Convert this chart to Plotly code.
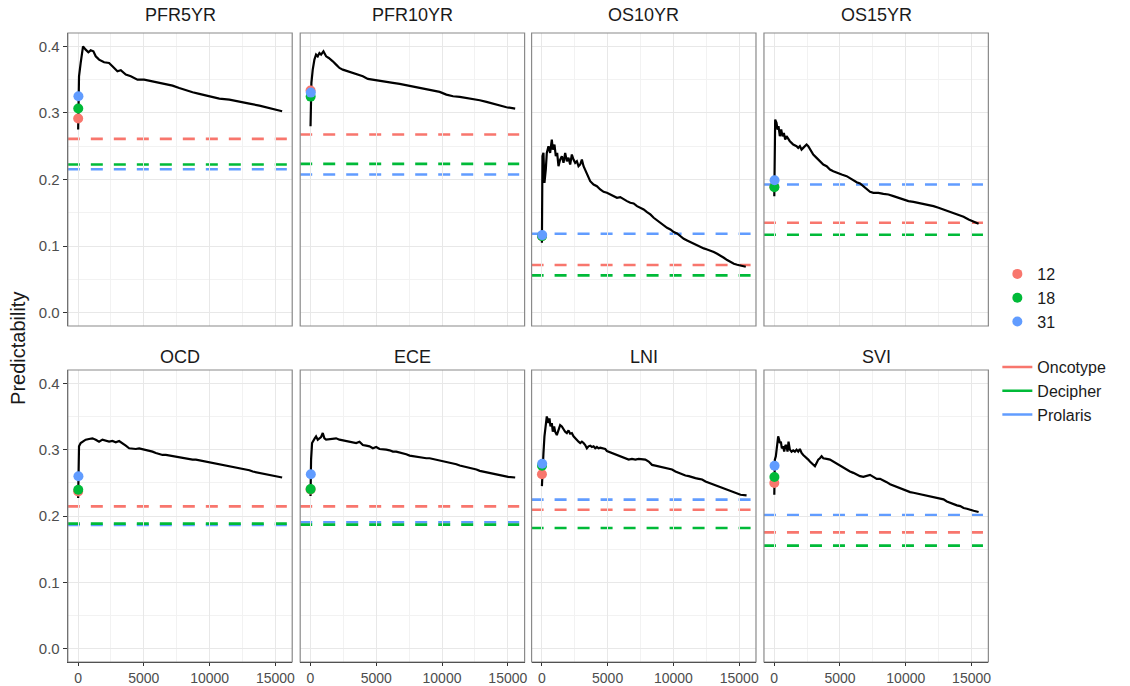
import plotly.graph_objects as go

# ---------------- data ----------------
panels = ["PFR5YR", "PFR10YR", "OS10YR", "OS15YR", "OCD", "ECE", "LNI", "SVI"]

curve_x = {
    "PFR5YR": [10, 76, 203, 381, 584, 787, 964, 1168, 1345, 1599, 1980, 2360, 2614, 2995, 3249, 3629, 4010, 4518,
               5025, 5660, 6167, 6675, 7183, 7690, 8198, 8706, 9213, 9975, 10736, 11497, 12259, 13020, 13782,
               14543, 15508],
    "PFR10YR": [10, 76, 178, 305, 431, 558, 685, 812, 990, 1193, 1396, 1574, 1701, 1954, 2208, 2462, 2843, 3223,
                3604, 3985, 4365, 4746, 5254, 5761, 6269, 6777, 7284, 7792, 8299, 8807, 9315, 9822, 10330, 10838,
                11345, 11853, 12360, 12868, 13376, 13883, 14391, 14898, 15560],
    "OS10YR": [10, 51, 127, 203, 305, 381, 508, 635, 761, 838, 964, 1066, 1168, 1269, 1396, 1523, 1650, 1777, 1904,
               2030, 2157, 2284, 2411, 2538, 2665, 2792, 2919, 3046, 3173, 3426, 3680, 3934, 4188, 4442, 4695, 4949,
               5203, 5457, 5711, 5964, 6218, 6472, 6726, 6980, 7234, 7487, 7741, 7995, 8249, 8503, 8756, 9010, 9264,
               9518, 9772, 10025, 10279, 10533, 10787, 11041, 11294, 11548, 11802, 12056, 12310, 12563, 12817,
               13071, 13325, 13579, 13832, 14086, 14340, 14594, 14848, 15101, 15500],
    "OS15YR": [10, 76, 178, 254, 330, 431, 533, 635, 736, 838, 939, 1066, 1193, 1320, 1447, 1701, 1827, 1954, 2081,
               2208, 2335, 2462, 2589, 2716, 2843, 2970, 3223, 3477, 3731, 3985, 4239, 4492, 4746, 5127, 5508, 5888,
               6269, 6523, 6777, 7030, 7284, 7538, 7919, 8299, 8680, 9061, 9442, 9822, 10203, 10584, 10964, 11345,
               11726, 12107, 12487, 12868, 13249, 13629, 14010, 14391, 14772, 15152, 15533],
    "OCD": [10, 30, 76, 203, 330, 584, 838, 1091, 1345, 1599, 1853, 2107, 2360, 2614, 2868, 3122, 3376, 3629, 3883,
            4137, 4391, 4645, 4898, 5152, 5406, 5660, 5914, 6168, 6421, 6675, 6929, 7183, 7437, 7690, 7944, 8198,
            8452, 8706, 8959, 9213, 9467, 9721, 9975, 10228, 10482, 10736, 10990, 11244, 11497, 11751, 12005,
            12259, 12513, 12766, 13020, 13274, 13528, 13782, 14035, 14289, 14543, 14797, 15051, 15508],
    "ECE": [10, 51, 127, 228, 330, 431, 558, 685, 812, 939, 1066, 1193, 1447, 1701, 1954, 2208, 2462, 2716, 2970,
            3223, 3477, 3731, 3985, 4239, 4492, 4746, 5000, 5254, 5508, 5761, 6015, 6269, 6523, 6777, 7030, 7284,
            7538, 7792, 8046, 8299, 8553, 8807, 9061, 9315, 9569, 9822, 10076, 10330, 10584, 10838, 11091, 11345,
            11599, 11853, 12107, 12360, 12614, 12868, 13122, 13376, 13629, 13883, 14137, 14391, 14645, 15025, 15560],
    "LNI": [10, 51, 127, 203, 305, 381, 457, 508, 584, 660, 761, 838, 939, 1015, 1142, 1269, 1396, 1523, 1650, 1777,
            1904, 2030, 2157, 2284, 2411, 2538, 2665, 2792, 2919, 3046, 3173, 3299, 3426, 3553, 3680, 3807, 3934,
            4061, 4188, 4315, 4442, 4569, 4695, 4822, 4949, 5076, 5330, 5584, 5838, 6091, 6345, 6599, 6853, 7107,
            7360, 7614, 7868, 8122, 8376, 8629, 8883, 9137, 9391, 9645, 9898, 10152, 10406, 10660, 10914, 11168,
            11421, 11675, 11929, 12183, 12437, 12690, 12944, 13198, 13452, 13706, 13959, 14213, 14467, 14721,
            15102, 15560],
    "SVI": [10, 51, 127, 228, 305, 381, 431, 508, 584, 685, 761, 863, 939, 1015, 1091, 1193, 1320, 1447, 1574, 1701,
            1827, 1954, 2081, 2208, 2335, 2462, 2589, 2716, 2843, 2970, 3096, 3223, 3350, 3477, 3604, 3731, 3858,
            3985, 4239, 4492, 4746, 5000, 5254, 5508, 5761, 6015, 6269, 6523, 6777, 7030, 7284, 7538, 7792, 8046,
            8299, 8553, 8807, 9061, 9315, 9569, 9822, 10076, 10330, 10584, 10838, 11091, 11345, 11599, 11853,
            12107, 12360, 12614, 12868, 13122, 13376, 13629, 13883, 14137, 14391, 14645, 14898, 15152, 15533],
}

curve_y = {
    "PFR5YR": [0.275, 0.355, 0.375, 0.400, 0.395, 0.391, 0.394, 0.3925, 0.385, 0.380, 0.376, 0.375, 0.370, 0.3625,
               0.364, 0.3575, 0.355, 0.350, 0.350, 0.3475, 0.346, 0.3435, 0.341, 0.3375, 0.334, 0.331, 0.3285,
               0.325, 0.3215, 0.320, 0.3175, 0.314, 0.311, 0.3075, 0.3025],
    "PFR10YR": [0.280, 0.345, 0.365, 0.380, 0.3875, 0.385, 0.390, 0.3875, 0.3925, 0.385, 0.3825, 0.380, 0.3775,
                0.3725, 0.3675, 0.365, 0.3625, 0.360, 0.3575, 0.355, 0.351, 0.350, 0.3485, 0.3465, 0.345, 0.3435,
                0.3415, 0.340, 0.3385, 0.3365, 0.3345, 0.3315, 0.3275, 0.325, 0.324, 0.3225, 0.321, 0.319, 0.3165,
                0.314, 0.311, 0.3085, 0.3065],
    "OS10YR": [0.105, 0.235, 0.240, 0.195, 0.215, 0.240, 0.250, 0.240, 0.260, 0.245, 0.2525, 0.235, 0.240, 0.220,
               0.230, 0.235, 0.225, 0.240, 0.2275, 0.2325, 0.2225, 0.2375, 0.230, 0.225, 0.2275, 0.220, 0.2225,
               0.230, 0.220, 0.210, 0.1975, 0.1925, 0.190, 0.185, 0.1815, 0.180, 0.1775, 0.175, 0.1725, 0.1735,
               0.170, 0.1675, 0.165, 0.164, 0.160, 0.1575, 0.155, 0.151, 0.1475, 0.1425, 0.1385, 0.135, 0.131,
               0.1275, 0.125, 0.121, 0.119, 0.115, 0.111, 0.1085, 0.106, 0.1035, 0.101, 0.0985, 0.0965, 0.095,
               0.0935, 0.091, 0.0885, 0.086, 0.0825, 0.079, 0.076, 0.0735, 0.072, 0.071, 0.069],
    "OS15YR": [0.175, 0.290, 0.285, 0.275, 0.280, 0.265, 0.275, 0.265, 0.270, 0.260, 0.265, 0.260, 0.2575, 0.255,
               0.2525, 0.250, 0.2475, 0.250, 0.245, 0.2475, 0.250, 0.2525, 0.250, 0.245, 0.240, 0.2375, 0.2325,
               0.2275, 0.2225, 0.220, 0.215, 0.2125, 0.210, 0.2075, 0.205, 0.200, 0.196, 0.194, 0.190, 0.185,
               0.1815, 0.180, 0.180, 0.1785, 0.1775, 0.175, 0.1725, 0.170, 0.1675, 0.1665, 0.165, 0.164, 0.1625,
               0.160, 0.1575, 0.155, 0.1525, 0.150, 0.147, 0.144, 0.140, 0.1365, 0.1335],
    "OCD": [0.227, 0.285, 0.305, 0.310, 0.312, 0.315, 0.316, 0.317, 0.315, 0.312, 0.315, 0.314, 0.312, 0.313, 0.311,
            0.313, 0.310, 0.306, 0.302, 0.301, 0.301, 0.302, 0.301, 0.300, 0.299, 0.297, 0.295, 0.293, 0.292, 0.292,
            0.291, 0.290, 0.289, 0.289, 0.288, 0.287, 0.286, 0.285, 0.285, 0.284, 0.283, 0.283, 0.282, 0.281, 0.280,
            0.279, 0.278, 0.277, 0.276, 0.275, 0.273, 0.272, 0.271, 0.270, 0.269, 0.267, 0.266, 0.265, 0.264, 0.262,
            0.261, 0.261, 0.260, 0.258],
    "ECE": [0.230, 0.285, 0.310, 0.315, 0.317, 0.320, 0.315, 0.317, 0.319, 0.325, 0.317, 0.315, 0.316, 0.317, 0.317,
            0.315, 0.314, 0.312, 0.311, 0.310, 0.310, 0.312, 0.307, 0.306, 0.305, 0.302, 0.304, 0.301, 0.301, 0.300,
            0.299, 0.297, 0.297, 0.296, 0.295, 0.293, 0.291, 0.290, 0.289, 0.288, 0.288, 0.287, 0.287, 0.286, 0.285,
            0.284, 0.282, 0.281, 0.280, 0.279, 0.278, 0.276, 0.275, 0.274, 0.272, 0.271, 0.270, 0.268, 0.267, 0.266,
            0.265, 0.264, 0.262, 0.261, 0.260, 0.259, 0.258],
    "LNI": [0.245, 0.270, 0.295, 0.320, 0.335, 0.350, 0.345, 0.340, 0.347, 0.335, 0.340, 0.327, 0.335, 0.327, 0.322,
            0.330, 0.337, 0.335, 0.330, 0.327, 0.325, 0.329, 0.324, 0.325, 0.320, 0.317, 0.315, 0.312, 0.310, 0.312,
            0.310, 0.307, 0.302, 0.305, 0.306, 0.304, 0.305, 0.302, 0.304, 0.302, 0.303, 0.302, 0.301, 0.301, 0.298,
            0.297, 0.295, 0.293, 0.290, 0.288, 0.287, 0.285, 0.286, 0.285, 0.286, 0.286, 0.285, 0.282, 0.277, 0.276,
            0.275, 0.274, 0.272, 0.271, 0.270, 0.267, 0.265, 0.262, 0.261, 0.260, 0.258, 0.257, 0.256, 0.255, 0.252,
            0.250, 0.248, 0.246, 0.245, 0.242, 0.241, 0.238, 0.236, 0.235, 0.232, 0.231],
    "SVI": [0.232, 0.285, 0.290, 0.305, 0.320, 0.315, 0.310, 0.312, 0.302, 0.305, 0.297, 0.307, 0.305, 0.297, 0.312,
            0.300, 0.297, 0.299, 0.297, 0.300, 0.297, 0.301, 0.295, 0.292, 0.290, 0.287, 0.285, 0.282, 0.280, 0.277,
            0.275, 0.280, 0.285, 0.287, 0.290, 0.287, 0.286, 0.286, 0.285, 0.282, 0.279, 0.276, 0.272, 0.270, 0.267,
            0.265, 0.262, 0.260, 0.259, 0.260, 0.262, 0.259, 0.256, 0.256, 0.254, 0.251, 0.248, 0.246, 0.244, 0.242,
            0.240, 0.237, 0.236, 0.235, 0.234, 0.232, 0.231, 0.230, 0.229, 0.229, 0.228, 0.227, 0.225, 0.222, 0.220,
            0.217, 0.216, 0.215, 0.212, 0.211, 0.209, 0.208, 0.206],
}

gene_sets = ["12", "18", "31"]
gene_x = [12, 18, 31]
gene_colors = ["#F8766D", "#00BA38", "#619CFF"]
# predictability of the 12-, 18-, 31-gene signatures per panel
point_y = {
    "PFR5YR": [0.2915, 0.3065, 0.325],
    "PFR10YR": [0.3335, 0.3245, 0.3305],
    "OS10YR": [0.115, 0.115, 0.1165],
    "OS15YR": [0.189, 0.1885, 0.199],
    "OCD": [0.237, 0.2395, 0.260],
    "ECE": [0.240, 0.2405, 0.263],
    "LNI": [0.263, 0.2757, 0.2787],
    "SVI": [0.2496, 0.2587, 0.2757],
}

tests = ["Oncotype", "Decipher", "Prolaris"]
test_colors = ["#F8766D", "#00BA38", "#619CFF"]
# commercial test reference levels per panel (Oncotype, Decipher, Prolaris)
test_y = {
    "PFR5YR": [0.261, 0.2225, 0.2155],
    "PFR10YR": [0.2675, 0.2235, 0.2075],
    "OS10YR": [0.0715, 0.056, 0.1185],
    "OS15YR": [0.135, 0.117, 0.1925],
    "OCD": [0.2145, 0.1885, 0.1865],
    "ECE": [0.2145, 0.187, 0.1905],
    "LNI": [0.2095, 0.182, 0.2246],
    "SVI": [0.1754, 0.1554, 0.2015],
}

x_ticks = [0, 5000, 10000, 15000]
x_minor = [2500, 7500, 12500]
y_ticks = [0.0, 0.1, 0.2, 0.3, 0.4]
y_ticktext = ["0.0", "0.1", "0.2", "0.3", "0.4"]
y_minor = [0.05, 0.15, 0.25, 0.35]

# ---------------- layout geometry (pixels) ----------------
W, H = 1130, 686
col_left = [68, 301, 533, 766]
panel_w = 225
row_top = [33, 370]
row_bot = [326, 662]
FONT = "Liberation Sans, Arial, sans-serif"

fig = go.Figure()
layout = dict(
    width=W, height=H, margin=dict(l=0, r=0, t=0, b=0),
    paper_bgcolor="white", plot_bgcolor="rgba(0,0,0,0)",
    font=dict(family=FONT, color="#1a1a1a"),
    showlegend=True,
)
shapes = []
annotations = []

for i, name in enumerate(panels):
    r, c = divmod(i, 4)
    k = i + 1
    xa = "x" if k == 1 else f"x{k}"
    ya = "y" if k == 1 else f"y{k}"
    xdom = [col_left[c] / W, (col_left[c] + panel_w) / W]
    ydom = [(H - row_bot[r]) / H, (H - row_top[r]) / H]
    bottom = r == 1
    left = c == 0
    layout[f"xaxis{k if k > 1 else ''}"] = dict(
        domain=xdom, anchor=ya, range=[-775, 16275],
        tickmode="array", tickvals=x_ticks, ticktext=[str(v) for v in x_ticks],
        showticklabels=bottom, ticks="outside" if bottom else "", ticklen=3, tickwidth=1, tickcolor="#333333",
        tickfont=dict(size=14, color="#4d4d4d", family=FONT),
        showgrid=True, gridcolor="#e8e8e8", gridwidth=1.1, zeroline=False,
        minor=dict(tickvals=x_minor, showgrid=True, gridcolor="#f2f2f2", gridwidth=0.8, ticks=""),
        showline=bottom, linecolor="#1a1a1a", linewidth=1.3,
        fixedrange=True,
    )
    layout[f"yaxis{k if k > 1 else ''}"] = dict(
        domain=ydom, anchor=xa, range=[-0.02, 0.42],
        tickmode="array", tickvals=y_ticks, ticktext=y_ticktext,
        showticklabels=left, ticks="outside" if left else "", ticklen=4, tickwidth=1, tickcolor="#333333",
        tickfont=dict(size=15, color="#4d4d4d", family=FONT),
        showgrid=True, gridcolor="#e8e8e8", gridwidth=1.1, zeroline=False,
        minor=dict(tickvals=y_minor, showgrid=True, gridcolor="#f2f2f2", gridwidth=0.8, ticks=""),
        showline=left, linecolor="#1a1a1a", linewidth=1.3,
        fixedrange=True,
    )

    # panel border
    shapes.append(dict(type="rect", xref=f"{xa} domain", yref=f"{ya} domain", x0=0, x1=1, y0=0, y1=1,
                       line=dict(color="#8a8a8a", width=1.2), fillcolor="rgba(0,0,0,0)", layer="above"))
    # commercial test reference lines (drawn Prolaris, Decipher, Oncotype)
    for j in [2, 1, 0]:
        shapes.append(dict(type="line", xref=f"{xa} domain", yref=ya, x0=0, x1=1,
                           y0=test_y[name][j], y1=test_y[name][j],
                           line=dict(color=test_colors[j], width=2.6, dash="12px,11px"), layer="below"))

    # strip title
    strip_center = 15 if r == 0 else 357
    annotations.append(dict(text=name, xref="paper", yref="paper",
                            x=(col_left[c] + panel_w / 2) / W, y=(H - strip_center) / H,
                            xanchor="center", yanchor="middle", showarrow=False,
                            font=dict(size=18, color="#1a1a1a", family=FONT)))

    # black predictability curve
    fig.add_trace(go.Scatter(x=curve_x[name], y=curve_y[name], mode="lines", xaxis=xa, yaxis=ya,
                             line=dict(color="black", width=2.2), showlegend=False, hoverinfo="skip"))
    # signature points
    for j, g in enumerate(gene_sets):
        fig.add_trace(go.Scatter(x=[gene_x[j]], y=[point_y[name][j]], mode="markers", xaxis=xa, yaxis=ya,
                                 marker=dict(color=gene_colors[j], size=10, line=dict(width=0)),
                                 name=g, legendgroup=g, showlegend=(i == 0), legend="legend"))

# legend entries for the reference tests
for j, t in enumerate(tests):
    fig.add_trace(go.Scatter(x=[None], y=[None], mode="lines", line=dict(color=test_colors[j], width=2.5),
                             name=t, showlegend=True, legend="legend2"))

annotations.append(dict(text="Predictability", xref="paper", yref="paper", x=18 / W, y=(H - 348) / H,
                        xanchor="center", yanchor="middle", textangle=-90, showarrow=False,
                        font=dict(size=20, color="#1a1a1a", family=FONT)))

layout["shapes"] = shapes
layout["annotations"] = annotations
layout["legend"] = dict(x=1000 / W, y=(H - 257) / H, xanchor="left", yanchor="top",
                        bgcolor="rgba(0,0,0,0)", font=dict(size=16, color="#1a1a1a", family=FONT),
                        tracegroupgap=0, itemclick=False, itemdoubleclick=False)
layout["legend2"] = dict(x=1000 / W, y=(H - 350) / H, xanchor="left", yanchor="top",
                         bgcolor="rgba(0,0,0,0)", font=dict(size=16, color="#1a1a1a", family=FONT),
                         tracegroupgap=0, itemclick=False, itemdoubleclick=False)
fig.update_layout(**layout)

fig.write_html("out.html")
